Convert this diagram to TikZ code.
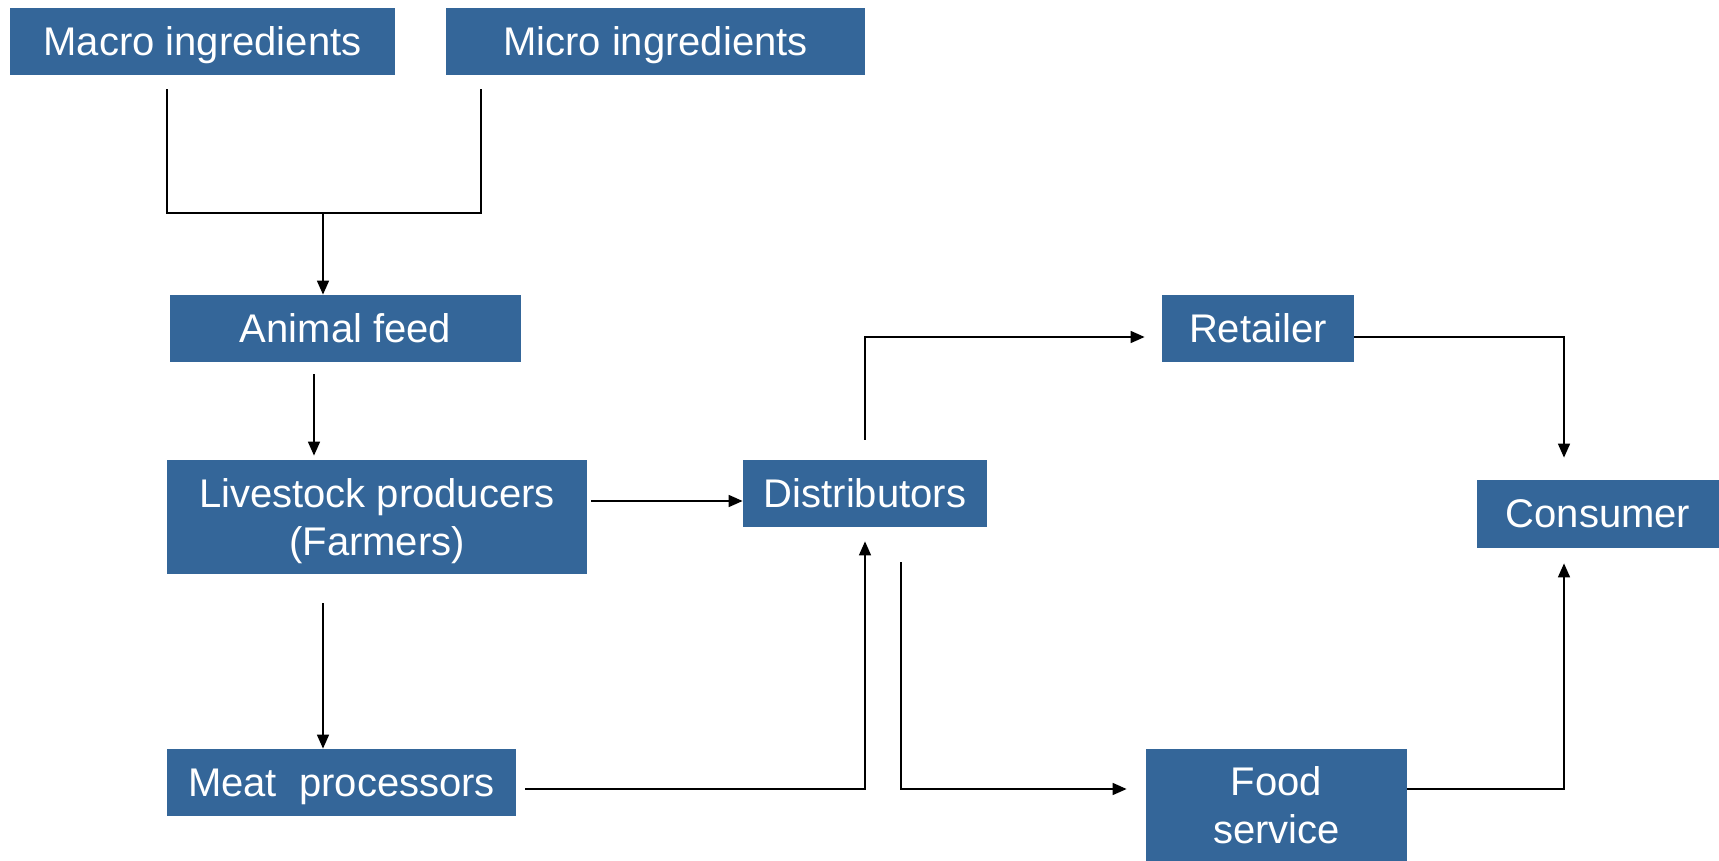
\documentclass[tikz,border=0pt]{standalone}
\usepackage{fontspec}
\setmainfont{Liberation Sans}
\usetikzlibrary{arrows.meta}
\definecolor{boxblue}{RGB}{52,102,153}
\tikzset{
  block/.style={draw=none, fill=boxblue, text=white, inner sep=0pt,
    align=center, text depth=0pt, font=\fontsize{20}{24}\selectfont},
  twoline/.style={block, text depth=-3pt},
  wire/.style={line width=0.8pt, draw=black},
  arrow/.style={wire, -{Triangle[length=7pt,width=6pt]}}
}
\begin{document}
\begin{tikzpicture}[x=0.5pt, y=-0.5pt]
\useasboundingbox (0,0) rectangle (1719,861);

% boxes
\node[block, minimum width=192.5pt, minimum height=33.5pt] (macro) at (202.5,41.5) {Macro ingredients};
\node[block, minimum width=209.5pt, minimum height=33.5pt] (micro) at (655.5,41.5) {Micro ingredients};
\node[block, minimum width=175.5pt, minimum height=33.5pt] (animal) at (345.5,328.5) {Animal feed};
\node[twoline, minimum width=210pt, minimum height=57pt] (livestock) at (377,517) {Livestock producers\\(Farmers)};
\node[block, minimum width=122pt, minimum height=33.5pt] (dist) at (865,493.5) {Distributors};
\node[block, minimum width=174.5pt, minimum height=33.5pt] (meat) at (341.5,782.5) {Meat~~processors};
\node[block, minimum width=96pt, minimum height=33.5pt] (retail) at (1258,328.5) {Retailer};
\node[block, minimum width=121pt, minimum height=34pt] (consumer) at (1598,514) {Consumer};
\node[twoline, minimum width=130.5pt, minimum height=56pt] (food) at (1276.5,805) {Food\\service};

% guide coordinates for the connector routes
\coordinate (jl) at (167,213);
\coordinate (jr) at (481,213);
\coordinate (jm) at (323,213);
\coordinate (xa) at (314,0);
\coordinate (ya) at (0,501);
\coordinate (xm) at (323,0);
\coordinate (yb) at (0,789);
\coordinate (yr) at (0,337);
\coordinate (xc) at (1564,0);
\coordinate (xf) at (901,0);

% connectors
\draw[wire, shorten <=7pt, shorten >=7pt] (macro.south -| jl) -- (jl) -- (jr) -- (micro.south -| jr);
\draw[arrow] (jm) -- (animal.north -| jm);
\draw[arrow, shorten <=6pt, shorten >=2pt] (animal.south -| xa) -- (livestock.north -| xa);
\draw[arrow, shorten <=2pt] (livestock.east |- ya) -- (dist.west |- ya);
\draw[arrow, shorten <=14.5pt] (livestock.south -| xm) -- (meat.north -| xm);
\draw[arrow, shorten <=4.5pt, shorten >=7pt] (meat.east |- yb) -| (dist.south);
\draw[arrow, shorten <=10pt, shorten >=8.5pt] (dist.north) |- (retail.west |- yr);
\draw[arrow, shorten >=11pt] (retail.east |- yr) -| (consumer.north -| xc);
\draw[arrow, shorten <=17.5pt, shorten >=9.5pt] (dist.south -| xf) |- (food.west |- yb);
\draw[arrow, shorten >=7.5pt] (food.east |- yb) -| (consumer.south -| xc);
\end{tikzpicture}
\end{document}
